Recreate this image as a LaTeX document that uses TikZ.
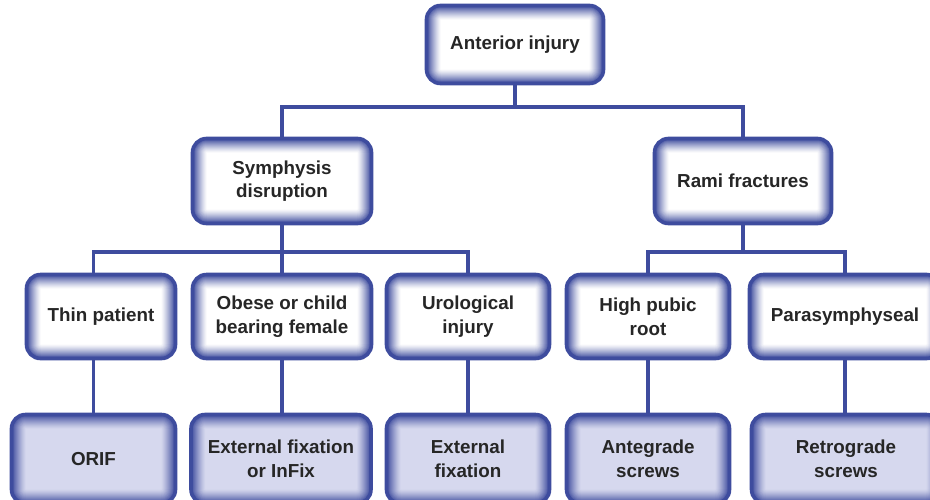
\documentclass[tikz,border=0pt]{standalone}
\usepackage{fontspec}
\setmainfont{Liberation Sans}
\usepackage{xcolor}
\usepackage{tikz}
\usetikzlibrary{calc}
\definecolor{ijedge}{RGB}{62,76,158}
\definecolor{ijtext}{RGB}{38,38,38}
\definecolor{ijlav}{RGB}{214,216,238}
\tikzset{
  ijbox/.style={
    draw=ijedge, line width=1.8pt, rounded corners=7pt, fill=#1,
    align=center, inner sep=2pt, text=ijtext,
    font=\fontsize{9.4}{11.8}\selectfont\bfseries,
    path picture={
      \foreach \k [evaluate=\k as \pc using {100*(\k/14)^1.25},
                   evaluate=\k as \lw using {(15-\k)*1.0}] in {1,...,14}
        \draw[line width=\lw pt, draw=ijedge!\pc!#1, rounded corners=7pt]
          (path picture bounding box.south west) rectangle (path picture bounding box.north east);
    }
  },
  case/.style={ijbox=white, minimum height=42pt},
  cure/.style={ijbox=ijlav, minimum height=44.5pt},
  link/.style={draw=ijedge, line width=1.8pt}
}

\begin{document}
\begin{tikzpicture}[x=0.5pt, y=-0.5pt]
  \path[use as bounding box, clip] (0,0) rectangle (930,499);
  \coordinate (lvl1) at (0,107);
  \coordinate (lvl2) at (0,252);

  \node[case, minimum width=88.5pt, minimum height=39pt] (ant) at (515,44.5) {Anterior injury};
  \node[case, minimum width=89.5pt, minimum height=42.5pt] (sym) at (282,181) {Symphysis\\disruption};
  \node[case, minimum width=88.5pt, minimum height=42.5pt] (rami) at (743,181) {Rami fractures};

  \node[case, minimum width=74.5pt] (thin) at (101,316.5) {Thin patient};
  \node[case, minimum width=89.5pt] (obese) at (282,316.5) {Obese or child\\bearing female};
  \node[case, minimum width=81.5pt] (uro) at (468,316.5) {Urological\\injury};
  \node[case, minimum width=81.5pt] (high) at (648,316.5) {High pubic\\root};
  \node[case, minimum width=95.5pt] (para) at (845,316.5) {Parasymphyseal};

  \node[cure, minimum width=82pt] (orif) at (93.5,459) {ORIF};
  \node[cure, minimum width=90pt] (exin) at (281,459) {External fixation\\or InFix};
  \node[cure, minimum width=81.5pt] (exfix) at (468,459) {External\\fixation};
  \node[cure, minimum width=81.5pt] (ante) at (648,459) {Antegrade\\screws};
  \node[cure, minimum width=94.5pt] (retro) at (846,459) {Retrograde\\screws};

  % tree links
  \draw[link] (ant.south) -- (ant.south |- lvl1) -| (sym.north);
  \draw[link] (ant.south |- lvl1) -| (rami.north);
  \draw[link] (sym.south) -- (sym.south |- lvl2) -| (orif.north |- thin.north);
  \draw[link] (rami.south) -- (rami.south |- lvl2);
  \foreach \n in {obese,uro} \draw[link] (sym.south |- lvl2) -| (\n.north);
  \foreach \n in {high,para} \draw[link] (rami.south |- lvl2) -| (\n.north);
  \draw[link] (thin.south -| orif.north) -- (orif.north);
  \foreach \p/\q in {obese/exin,uro/exfix,high/ante,para/retro}
    \draw[link] (\p.south) -- (\p.south |- \q.north);
\end{tikzpicture}
\end{document}
